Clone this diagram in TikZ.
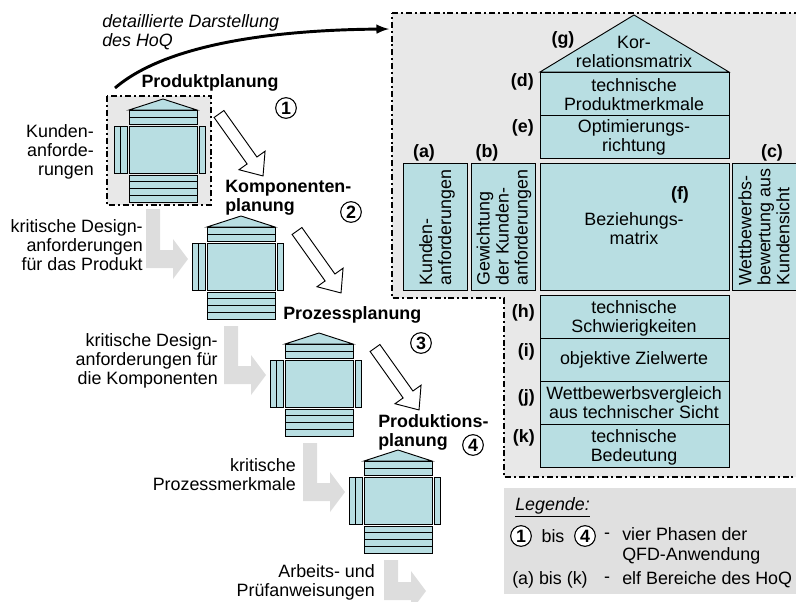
\documentclass[tikz,border=0pt]{standalone}
\usepackage{fontspec}
\setmainfont{Liberation Sans}
\usetikzlibrary{calc}

\definecolor{hoqcyan}{RGB}{184,222,226}
\definecolor{framegray}{RGB}{232,232,232}
\definecolor{legendgray}{RGB}{224,224,224}
\definecolor{flowgray}{RGB}{221,221,221}

\tikzset{
  cell/.style={draw=black, fill=hoqcyan, line width=0.7pt},
  dashframe/.style={draw=black, fill=framegray, line width=1.5pt, dash pattern=on 4.5pt off 2.2pt on 1.5pt off 2.2pt},
  txt/.style={inner sep=0pt, font=\fontsize{13.4}{14.3}\selectfont},
  tag/.style={inner sep=0pt, font=\fontsize{13.4}{14.3}\selectfont\bfseries},
  phase/.style={draw, circle, fill=white, line width=0.8pt, minimum size=15.5pt, inner sep=0pt, font=\fontsize{13.4}{14.3}\selectfont\bfseries},
  hollowarrow/.style={draw=black, fill=white, line width=0.7pt},
}

\begin{document}
\begin{tikzpicture}[x=0.75pt, y=-0.75pt]
\path[use as bounding box, clip] (0,0) rectangle (796,601);
\def\angarrow{-54.6};
% small house of quality, #1/#2 = upper left corner of the matrix
\def\minihoq#1#2{%
\begin{scope}[shift={(#1,#2)}]
\draw[cell] (0,-16) -- (34,-27) -- (68,-16) -- cycle;
\draw[cell] (0,-16) rectangle (68,-9);
\draw[cell] (0,-9) rectangle (68,-2);
\draw[cell] (0,0) rectangle (68,47);
\draw[cell] (-15,0) rectangle (-9,47);
\draw[cell] (-9,0) rectangle (-2,47);
\draw[cell] (70,0) rectangle (76,47);
\foreach \r in {0,...,3}
\draw[cell] (0,49+6.75*\r) rectangle (68,55.75+6.75*\r);
\end{scope}}
% grey flow arrow, #1 = left of bar, #2 = top, #3 = middle of the head
\def\flowarrow#1#2#3{%
\fill[flowgray] (#1,#2) -- (#1+14,#2) -- (#1+14,#3-9) -- (#1+27,#3-9) -- (#1+27,#3-20)
  -- (#1+42,#3) -- (#1+27,#3+20) -- (#1+27,#3+9) -- (#1,#3+9) -- cycle;}

% detail frame and legend
\draw[dashframe] (392,13) -- (802,13) -- (802,477) -- (504,477) -- (504,298) -- (392,298) -- cycle;
\fill[legendgray] (504,488) rectangle (802,594);

% big house of quality
\draw[cell] (540,72) -- (634,15) -- (729,72) -- cycle;
\draw[cell] (540,72) rectangle (729,115);
\draw[cell] (540,115) rectangle (729,158);
\draw[cell] (403,163) rectangle (467,290);
\draw[cell] (471,163) rectangle (535,290);
\draw[cell] (540,163) rectangle (729,290);
\draw[cell] (732,163) rectangle (796,290);
\draw[cell] (540,295) rectangle (729,338);
\draw[cell] (540,338) rectangle (729,381);
\draw[cell] (540,381) rectangle (729,424);
\draw[cell] (540,424) rectangle (729,467);

\node[txt, align=center] (korr) at (634,52) {Kor-\\relationsmatrix};
\node[txt, align=center] (merkmale) at (634,95) {technische\\Produktmerkmale};
\node[txt, align=center] (optim) at (634,137) {Optimierungs-\\richtung};
\node[txt, align=center] (bezieh) at (634,229) {Beziehungs-\\matrix};
\node[txt, rotate=90, anchor=west, align=left] (kundanf) at (437,286) {Kunden-\\anforderungen};
\node[txt, rotate=90, anchor=west, align=left] (gewicht) at (504,286) {Gewichtung\\der Kunden-\\anforderungen};
\node[txt, rotate=90, anchor=west, align=left] (wettkund) at (764,286) {Wettbewerbs-\\bewertung aus\\Kundensicht};
\node[txt, align=center] (schwier) at (634,318) {technische\\Schwierigkeiten};
\node[txt, align=center] (ziel) at (634,360) {objektive Zielwerte};
\node[txt, align=center] (wetttech) at (634,403) {Wettbewerbsvergleich\\aus technischer Sicht};
\node[txt, align=center] (bedeut) at (634,447) {technische\\Bedeutung};

\node[tag] (la) at (424,153) {(a)};
\node[tag] (lb) at (487,153) {(b)};
\node[tag] (lc) at (772,153) {(c)};
\node[tag, anchor=east] (ld) at (534,82) {(d)};
\node[tag, anchor=east] (le) at (534,128) {(e)};
\node[tag] (lf) at (680,195) {(f)};
\node[tag] (lg) at (563,40) {(g)};
\node[tag, anchor=east] (lh) at (535,313) {(h)};
\node[tag, anchor=east] (li) at (535,352) {(i)};
\node[tag, anchor=east] (lj) at (535,398) {(j)};
\node[tag, anchor=east] (lk) at (535,438) {(k)};

% four phases
\draw[dashframe] (107,96) rectangle (211,205);
\flowarrow{146}{209}{259}
\flowarrow{224}{326}{375}
\flowarrow{303}{443}{492}
\flowarrow{384}{560}{591}
\foreach \hx/\hy in {129/126, 207/243, 285/360, 364/477}
\minihoq{\hx}{\hy};
\foreach \tx/\ty in {219/114, 297/231, 375/348}
\draw[hollowarrow, shift={(\tx,\ty)}, rotate=\angarrow] (0,-6) -- (57,-6) -- (57,-16) -- (76,0) -- (57,16) -- (57,6) -- (0,6) -- cycle;

\node[tag] (stage1) at (210,83) {Produktplanung};
\node[tag, anchor=west, align=left] (stage2) at (225,198) {Komponenten-\\planung};
\node[tag, anchor=west] (stage3) at (283,315) {Prozessplanung};
\node[tag, anchor=west, align=left] (stage4) at (378,432) {Produktions-\\planung};
\node[phase] (p1) at (286,108) {1};
\node[phase] (p2) at (351,212) {2};
\node[phase] (p3) at (421,343) {3};
\node[phase] (p4) at (473,445) {4};

\node[txt, anchor=east, align=right] (in1) at (94,152) {Kunden-\\anforde-\\rungen};
\node[txt, anchor=east, align=right] (in2) at (143,245) {kritische Design-\\anforderungen\\für das Produkt};
\node[txt, anchor=east, align=right] (in3) at (218,361) {kritische Design-\\anforderungen für\\die Komponenten};
\node[txt, anchor=east, align=right] (in4) at (296,475) {kritische\\Prozessmerkmale};
\node[txt, anchor=east, align=right] (out4) at (375,582) {Arbeits- und\\Prüfanweisungen};

% link to the detailed view
\node[txt, anchor=west, align=left, font=\fontsize{13.4}{14.3}\selectfont\itshape] (hoqnote) at (102,32) {detaillierte Darstellung\\des HoQ};
\coordinate (linkstart) at (115,88);
\coordinate (linkend) at (389,29);
\draw[line width=2.2pt, -latex] (linkstart) .. controls (165,45) and (270,30) .. (linkend);

% legend
\node[txt, anchor=west] (legtitle) at (515,507) {\underline{\textit{Legende:}}};
\node[phase] (leg1) at (521,536) {1};
\node[txt] (legbis) at (553,536) {bis};
\node[phase] (leg4) at (585,536) {4};
\node[txt] (legdasha) at (607,536) {-};
\node[txt, anchor=west, align=left] (legphases) at (622,546) {vier Phasen der\\[1pt]QFD-Anwendung};
\node[txt, anchor=west] (legab) at (512,580) {(a) bis (k)};
\node[txt] (legdashb) at (607,580) {-};
\node[txt, anchor=west] (legareas) at (622,580) {elf Bereiche des HoQ};
\end{tikzpicture}
\end{document}
